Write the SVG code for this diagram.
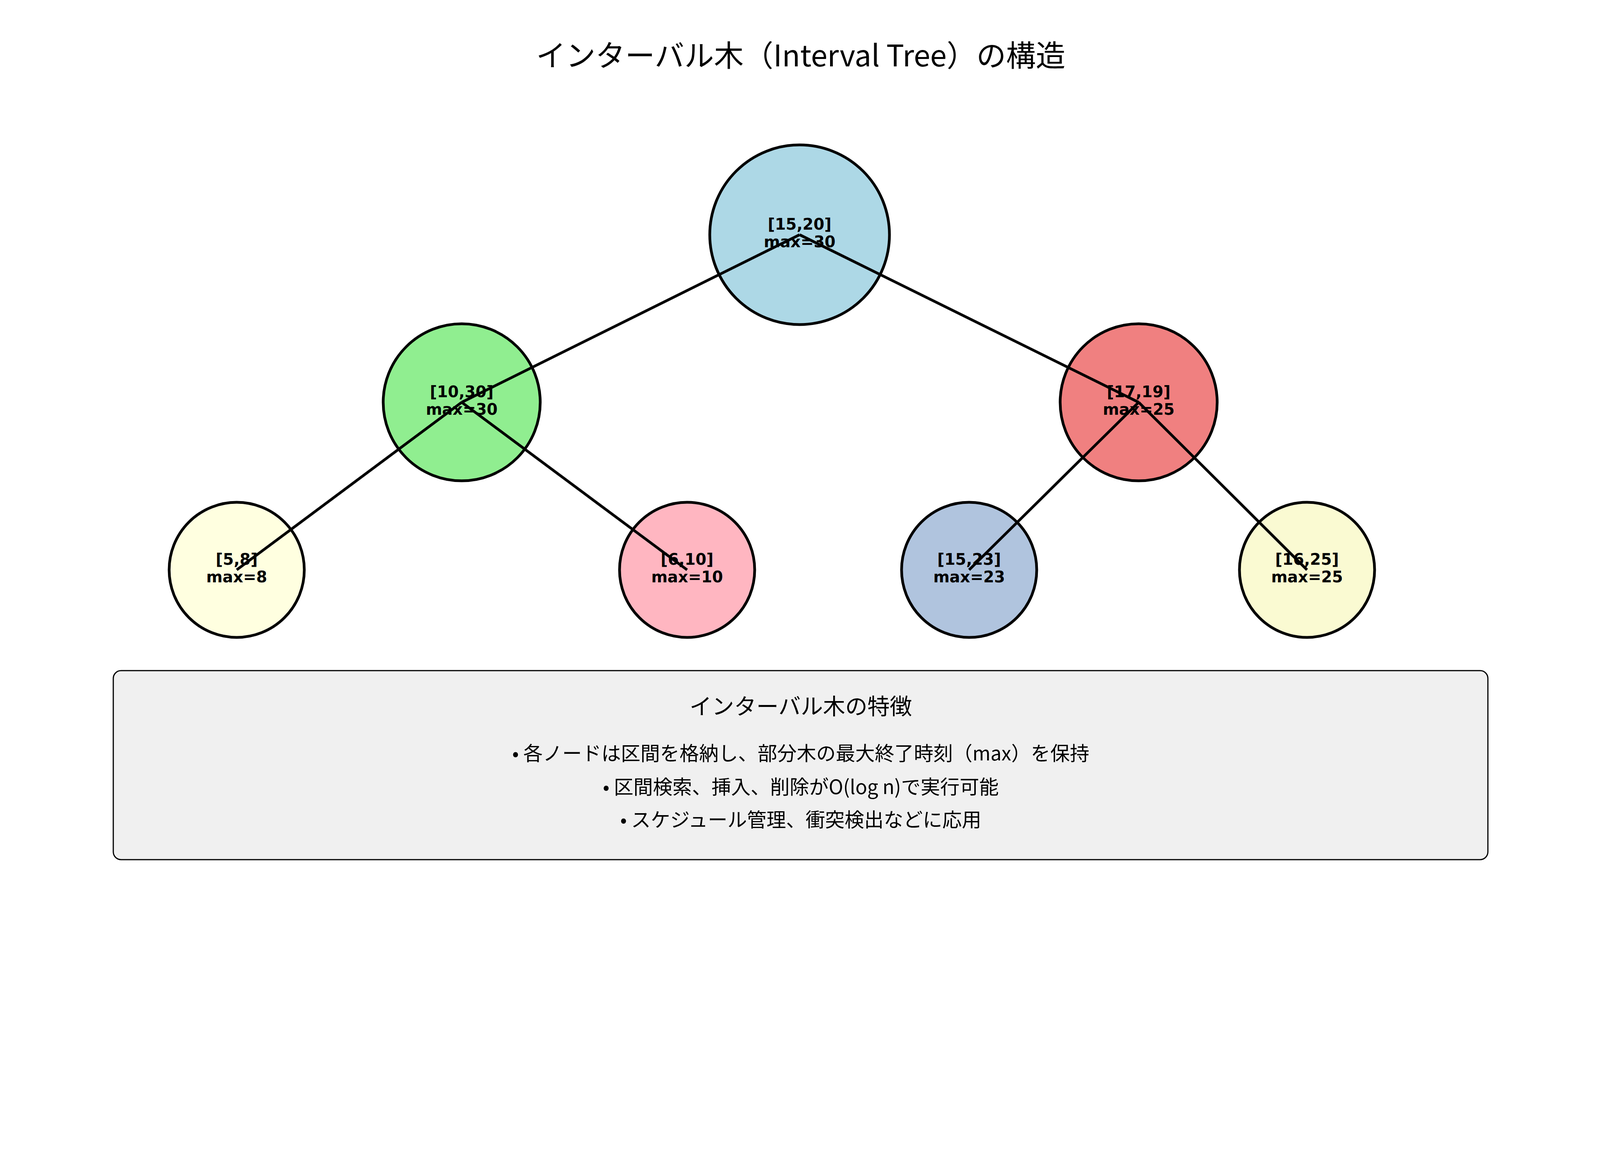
<svg xmlns="http://www.w3.org/2000/svg" width="4170" height="2970" viewBox="0 0 4170 2970">
<style>
.n{stroke:#000;stroke-width:7}
.e{stroke:#000;stroke-width:7;fill:none}
.t{font-family:"DejaVu Sans",sans-serif;font-weight:bold;font-size:40px;text-anchor:middle;fill:#000}
.j{font-family:"Noto Sans CJK JP",sans-serif;text-anchor:middle;fill:#000}
</style>
<rect width="4170" height="2970" fill="#fff"/>
<text class="j" x="2050" y="170" font-size="76">インターバル木（Interval Tree）の構造</text>
<g id="node-root"><circle class="n" cx="2047" cy="601" r="230" fill="#add8e6"/></g>
<g id="node-10-30"><circle class="n" cx="1182" cy="1030" r="201" fill="#90ee90"/></g>
<g id="node-17-19"><circle class="n" cx="2915" cy="1030" r="201" fill="#f08080"/></g>
<g id="node-5-8"><circle class="n" cx="606" cy="1459" r="173" fill="#ffffe0"/></g>
<g id="node-6-10"><circle class="n" cx="1759" cy="1459" r="173" fill="#ffb6c1"/></g>
<g id="node-15-23"><circle class="n" cx="2481" cy="1459" r="173" fill="#b0c4de"/></g>
<g id="node-16-25"><circle class="n" cx="3346" cy="1459" r="173" fill="#fafad2"/></g>
<g id="connectors">
<line class="e" x1="2047" y1="601" x2="1182" y2="1030"/>
<line class="e" x1="2047" y1="601" x2="2915" y2="1030"/>
<line class="e" x1="1182" y1="1030" x2="606" y2="1459"/>
<line class="e" x1="1182" y1="1030" x2="1759" y2="1459"/>
<line class="e" x1="2915" y1="1030" x2="2481" y2="1459"/>
<line class="e" x1="2915" y1="1030" x2="3346" y2="1459"/>
</g>
<g id="labels">
<text class="t" x="2047" y="588">[15,20]</text><text class="t" x="2047" y="633">max=30</text>
<text class="t" x="1182" y="1017">[10,30]</text><text class="t" x="1182" y="1062">max=30</text>
<text class="t" x="2915" y="1017">[17,19]</text><text class="t" x="2915" y="1062">max=25</text>
<text class="t" x="606" y="1446">[5,8]</text><text class="t" x="606" y="1491">max=8</text>
<text class="t" x="1759" y="1446">[6,10]</text><text class="t" x="1759" y="1491">max=10</text>
<text class="t" x="2481" y="1446">[15,23]</text><text class="t" x="2481" y="1491">max=23</text>
<text class="t" x="3346" y="1446">[16,25]</text><text class="t" x="3346" y="1491">max=25</text>
</g>
<g id="features">
<rect x="290" y="1717" width="3519" height="484" rx="20" fill="#f0f0f0" stroke="#000" stroke-width="3"/>
<text class="j" x="2050" y="1829" font-size="57">インターバル木の特徴</text>
<text class="j" x="2050" y="1947" font-size="50">• 各ノードは区間を格納し、部分木の最大終了時刻（max）を保持</text>
<text class="j" x="2050" y="2033" font-size="50">• 区間検索、挿入、削除がO(log n)で実行可能</text>
<text class="j" x="2050" y="2117" font-size="50">• スケジュール管理、衝突検出などに応用</text>
</g>
</svg>
